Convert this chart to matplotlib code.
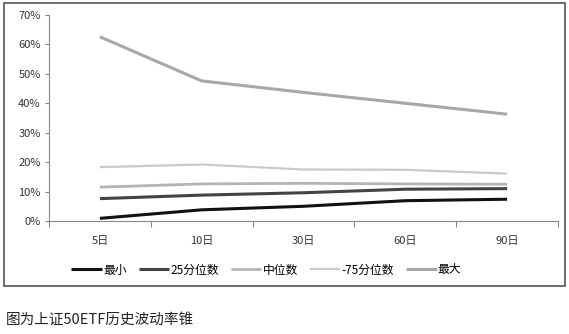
import matplotlib
matplotlib.use("Agg")
import matplotlib.pyplot as plt
from matplotlib.patches import Rectangle

plt.rcParams['font.family'] = ['Noto Sans CJK SC', 'DejaVu Sans']

categories = ['5日', '10日', '30日', '60日', '90日']
s_min = [0.9, 3.8, 5.0, 6.9, 7.4]
s_p25 = [7.6, 8.8, 9.6, 10.8, 11.0]
s_med = [11.5, 12.6, 12.8, 12.6, 12.5]
s_p75 = [18.3, 19.2, 17.5, 17.4, 16.1]
s_max = [62.6, 47.6, 43.7, 40.0, 36.3]
labels = ['最小', '25分位数', '中位数', '-75分位数', '最大']
yticks = [0, 10, 20, 30, 40, 50, 60, 70]

fig = plt.figure(figsize=(5.69, 3.34), dpi=100)
fig.patch.set_facecolor('white')
fig.add_artist(Rectangle((4/569, 1-286/334), 561/569, 283/334, transform=fig.transFigure,
                         fill=False, edgecolor='#555555', linewidth=1.2))

ax = fig.add_axes([49/569, 1-221/334, 509/569, 206/334])
x = list(range(len(categories)))
series = [s_min, s_p25, s_med, s_p75, s_max]
colors = ['#111111', '#444444', '#b4b4b4', '#cacaca', '#a8a8a8']
widths = [2.2, 2.2, 2.0, 1.6, 2.2]
for s, c, w, l in zip(series, colors, widths, labels):
    ax.plot(x, s, color=c, linewidth=w, label=l, solid_capstyle='butt')

ax.set_xlim(-0.5, len(categories) - 0.5)
ax.set_ylim(0, 70)
ax.set_yticks(yticks)
ax.set_yticklabels([f'{v}%' for v in yticks], fontsize=8, color='#333333')
ax.set_xticks([i - 0.5 for i in range(len(categories) + 1)])
ax.set_xticklabels([])
ax.set_xticks(x, minor=True)
ax.set_xticklabels(categories, minor=True, fontsize=8, color='#333333')
ax.tick_params(axis='x', which='major', length=4, color='#888888', direction='out')
ax.tick_params(axis='x', which='minor', length=0, pad=11)
ax.tick_params(axis='y', length=3, color='#888888', pad=3)
for side in ['top', 'right']:
    ax.spines[side].set_visible(False)
for side in ['left', 'bottom']:
    ax.spines[side].set_color('#888888')
    ax.spines[side].set_linewidth(0.8)

fig.legend(loc='center', bbox_to_anchor=(0.468, 1-270/334), ncol=5, frameon=False,
           fontsize=8.5, handlelength=2.6, handletextpad=0.1, columnspacing=1.0)

fig.text(6/569, 1-320/334, '图为上证50ETF历史波动率锥', fontsize=10.5, va='center', ha='left', color='#222222')

fig.savefig('out.png', dpi=100, facecolor='white')
